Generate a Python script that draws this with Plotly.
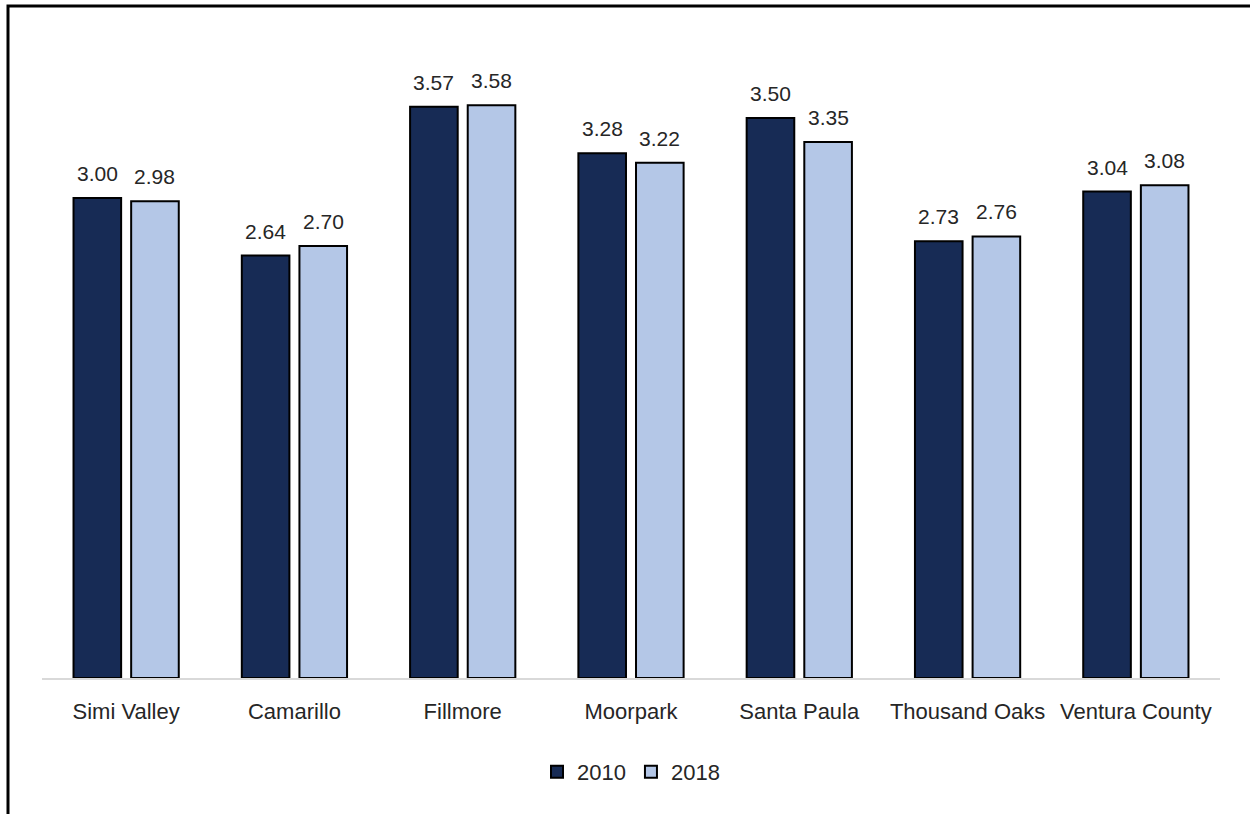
import plotly.graph_objects as go

categories = ["Simi Valley", "Camarillo", "Fillmore", "Moorpark", "Santa Paula", "Thousand Oaks", "Ventura County"]
values_2010 = [3.00, 2.64, 3.57, 3.28, 3.50, 2.73, 3.04]
values_2018 = [2.98, 2.70, 3.58, 3.22, 3.35, 2.76, 3.08]

FONT = "Liberation Sans Narrow, Arial Narrow, Liberation Sans, Arial, sans-serif"
TXT = "#262626"

L, R, T, B = 42, 30, 38, 136
W, H = 1250, 814
pw = W - L - R
ph = H - T - B
BARGAP, GROUPGAP = 0.315, 0.174
cat_px = pw / len(categories)
slot_px = cat_px * (1 - BARGAP) / 2

fig = go.Figure()
fig.add_trace(go.Bar(
    name="2010", x=categories, y=values_2010,
    marker=dict(color="#172B55", line=dict(color="black", width=2)),
))
fig.add_trace(go.Bar(
    name="2018", x=categories, y=values_2018,
    marker=dict(color="#B4C7E7", line=dict(color="black", width=2)),
))

annotations = []
for vals, sign in ((values_2010, -1), (values_2018, 1)):
    for c, v in zip(categories, vals):
        annotations.append(dict(
            x=c, y=v, xref="x", yref="y", text=f"{v:.2f}", showarrow=False,
            xanchor="center", yanchor="bottom", xshift=sign * slot_px / 2, yshift=11,
            font=dict(size=21, color=TXT, family=FONT),
        ))

fig.update_layout(
    width=W, height=H,
    margin=dict(l=L, r=R, t=T, b=B, pad=0),
    paper_bgcolor="white", plot_bgcolor="white",
    barmode="group", bargap=BARGAP, bargroupgap=GROUPGAP,
    font=dict(family=FONT, size=21, color=TXT),
    showlegend=True,
    legend=dict(orientation="h", x=0.5, xanchor="center", y=(678 - 772) / ph, yanchor="middle",
                font=dict(size=22, color=TXT, family=FONT), itemwidth=30, traceorder="normal"),
    xaxis=dict(showline=True, linecolor="#D9D9D9", linewidth=2, ticks="outside", ticklen=13,
               tickcolor="rgba(0,0,0,0)", tickfont=dict(size=22, color=TXT, family=FONT),
               showgrid=False, zeroline=False),
    yaxis=dict(range=[0, 4], visible=False, showgrid=False, zeroline=False),
    annotations=annotations,
    shapes=[dict(type="rect", xref="paper", yref="paper",
                 x0=(8 - L) / pw, x1=(1300 - L) / pw,
                 y0=(678 - 900) / ph, y1=(678 - 6) / ph,
                 line=dict(color="black", width=3), fillcolor="rgba(0,0,0,0)", layer="above")],
)

fig.write_html("out.html")
